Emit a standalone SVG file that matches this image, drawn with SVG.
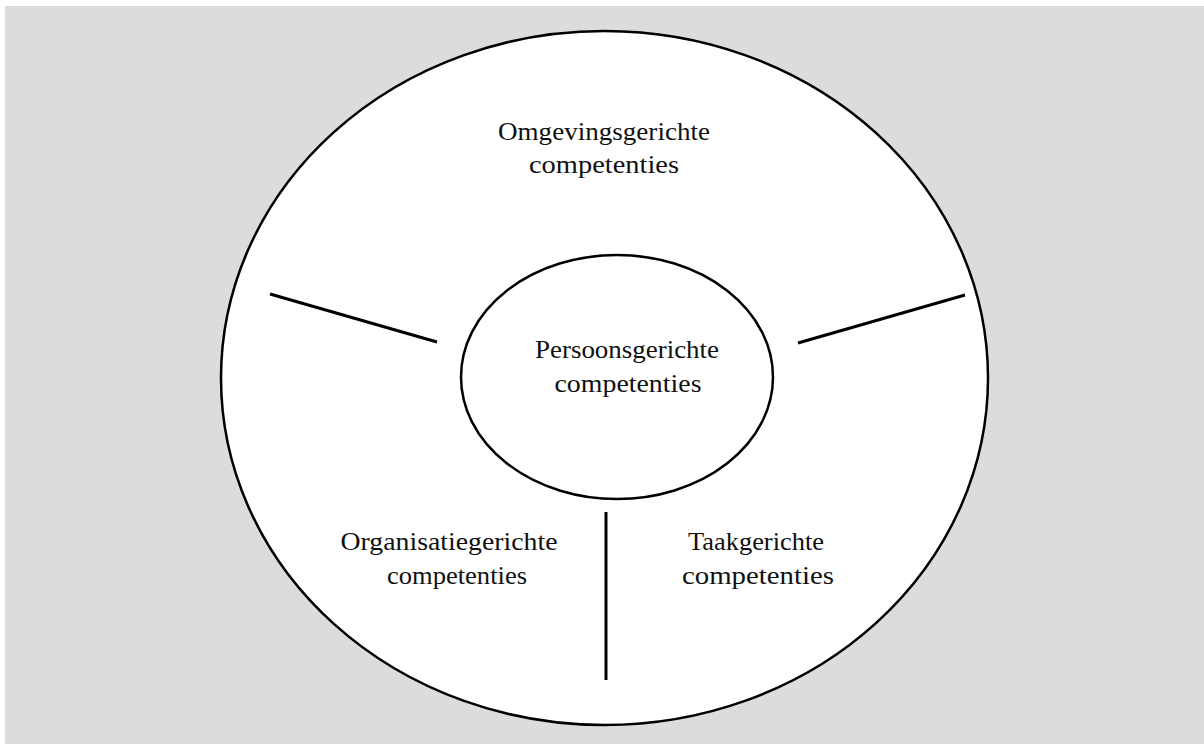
<svg xmlns="http://www.w3.org/2000/svg" width="1204" height="744" viewBox="0 0 1204 744">
  <style>
    .shape { fill: #ffffff; stroke: #000000; stroke-width: 2.5; }
    .divider { stroke: #000000; stroke-width: 3; stroke-linecap: butt; fill: none; }
    .label { font-family: "Liberation Serif", "DejaVu Serif", serif; font-size: 26px; fill: #111111; text-anchor: middle; }
  </style>
  <rect x="0" y="0" width="1204" height="744" fill="#ffffff"/>
  <rect x="5" y="6" width="1199" height="738" fill="#dcdcdc"/>

  <g id="outer-circle">
    <ellipse class="shape" cx="604.5" cy="378" rx="383.5" ry="347"/>
    <text class="label" x="604" y="140" textLength="212" lengthAdjust="spacingAndGlyphs">Omgevingsgerichte</text>
    <text class="label" x="604" y="173" textLength="150" lengthAdjust="spacingAndGlyphs">competenties</text>
  </g>

  <g id="connectors">
    <line class="divider" x1="270" y1="294" x2="437" y2="342"/>
    <line class="divider" x1="798" y1="343" x2="965" y2="295"/>
    <line class="divider" x1="606" y1="512" x2="606" y2="680"/>
  </g>

  <g id="inner-circle">
    <ellipse class="shape" cx="617" cy="377" rx="156" ry="122"/>
    <text class="label" x="627" y="358" textLength="184" lengthAdjust="spacingAndGlyphs">Persoonsgerichte</text>
    <text class="label" x="628" y="392" textLength="147" lengthAdjust="spacingAndGlyphs">competenties</text>
  </g>

  <g id="organisatie">
    <text class="label" x="449" y="550" textLength="217" lengthAdjust="spacingAndGlyphs">Organisatiegerichte</text>
    <text class="label" x="457" y="584" textLength="140" lengthAdjust="spacingAndGlyphs">competenties</text>
  </g>

  <g id="taak">
    <text class="label" x="756" y="550" textLength="136" lengthAdjust="spacingAndGlyphs">Taakgerichte</text>
    <text class="label" x="758" y="584" textLength="152" lengthAdjust="spacingAndGlyphs">competenties</text>
  </g>
</svg>
